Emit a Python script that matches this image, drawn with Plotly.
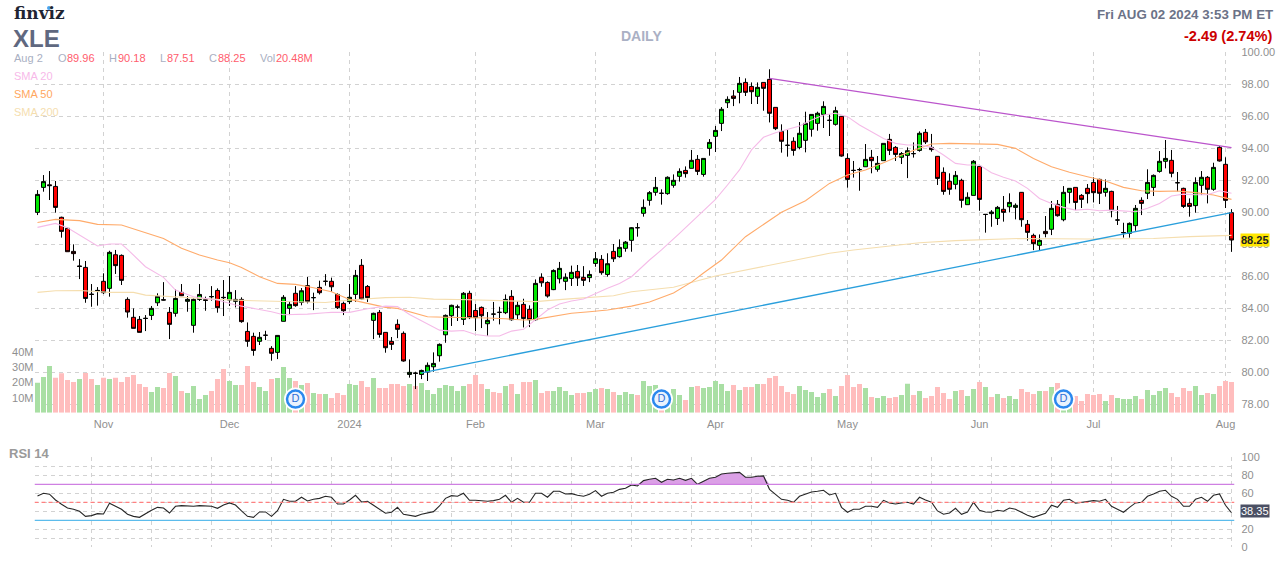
import plotly.graph_objects as go

W = 1287
H = 562

# trading days, Oct 17 2023 .. Aug 2 2024, x is the bar number
MONTH_TICKS = [11, 32, 52, 73, 93, 113, 135, 157, 176, 198]
MONTH_LABELS = ['Nov', 'Dec', '2024', 'Feb', 'Mar', 'Apr', 'May', 'Jun', 'Jul', 'Aug']
DIVIDEND_BARS = [43, 104, 171]

OPEN = [
    89.98, 91.54, 91.7, 91.6, 89.67, 88.98, 87.54, 86.63, 86.54, 84.87,
    85.06, 85.67, 85.23, 87.33, 87.29, 84.54, 83.42, 83.29, 83.36, 83.54,
    84.33, 84.52, 83.73, 83.67, 84.98, 84.42, 82.92, 84.54, 84.52, 84.7,
    85.1, 84.67, 84.5, 84.42, 84.54, 82.54, 82.23, 81.92, 82.3, 81.48,
    81.23, 83.17, 83.98, 84.92, 84.35, 85.4, 84.65, 85.29, 85.67, 85.67,
    84.85, 84.29, 84.4, 84.85, 86.67, 85.35, 83.23, 83.73, 82.48, 81.92,
    82.98, 82.42, 79.85, 79.94, 79.85, 80, 80.33, 81.02, 82.33, 83.52,
    84.06, 83.29, 84.92, 83.85, 84.04, 83.02, 83.62, 83.73, 83.71, 84.73,
    83.58, 84.23, 83.92, 83.27, 85.92, 85.6, 85.15, 85.83, 85.67, 85.85,
    86.29, 85.92, 85.9, 86.79, 87.04, 86.1, 87.54, 87.21, 87.73, 88.23,
    89.02, 89.92, 90.73, 91.23, 91.17, 91.15, 91.67, 92.23, 92.6, 92.73,
    93.29, 92.35, 93.98, 94.73, 95.54, 96.83, 97.25, 97.48, 98.1, 97.85,
    97.23, 98.1, 98.29, 96.54, 95.04, 94.17, 94.42, 94.04, 94.48, 95.17,
    95.54, 96.1, 95.73, 95.48, 95.98, 93.35, 92.6, 92.65, 92.83, 93.42,
    92.67, 93.21, 94.54, 94.04, 93.42, 93.54, 93.65, 93.85, 94.98, 94.04,
    93.48, 92.48, 91.92, 91.73, 91.98, 90.46, 91.04, 92.85, 89.85, 89.9,
    89.6, 90.17, 90.33, 90.29, 91.23, 89.23, 88.54, 87.92, 88.79, 88.92,
    90.48, 89.52, 91.23, 91.54, 91.04, 91.48, 91.85, 92.04, 91.23, 91.29,
    89.5, 88.7, 88.67, 89.15, 90.73, 91.17, 91.54, 92.54, 93.17, 93.23,
    91.83, 91.48, 90.54, 90.4, 91.67, 92.17, 91.42, 94.04, 92.98, 89.96,
]
HIGH = [
    91.37, 92.31, 92.56, 91.94, 89.71, 89.04, 87.98, 87.06, 86.94, 85.5,
    85.31, 86.17, 87.58, 87.63, 87.35, 84.67, 83.98, 83.5, 83.56, 84.13,
    84.92, 85.62, 84.06, 85.17, 85.5, 84.75, 84.6, 85.5, 84.71, 85.37,
    85.23, 85.75, 86, 85.12, 84.67, 83.1, 82.46, 82.5, 82.58, 81.62,
    82.29, 84.81, 84.44, 85.37, 85.25, 85.94, 84.96, 85.71, 86.12, 85.9,
    84.92, 84.4, 85.5, 86.38, 87.06, 85.44, 83.71, 83.88, 82.48, 82.19,
    83.29, 82.54, 80.79, 80.02, 80.15, 80.6, 81.23, 81.79, 83.6, 84.21,
    84.21, 85, 85.08, 84.25, 84.1, 83.75, 84.38, 84.08, 84.85, 85.12,
    84.42, 84.58, 84.17, 85.79, 86.17, 85.67, 86.42, 86.88, 86.17, 86.65,
    86.69, 86.62, 86.35, 87.5, 87.31, 87.42, 88, 88.29, 88.19, 89.05,
    89.31, 90.79, 91.31, 92.19, 91.42, 92.23, 92.35, 92.73, 92.85, 93.88,
    93.56, 93.35, 94.56, 95.38, 96.56, 97.23, 97.62, 98.44, 98.35, 98.1,
    98.1, 98.1, 98.92, 96.54, 95.48, 95.12, 94.67, 95.62, 96.27, 96.1,
    96.27, 96.92, 96.1, 96.58, 96, 93.67, 93.19, 92.77, 94.25, 93.88,
    93.5, 94.29, 94.88, 94.12, 93.75, 94.04, 94.35, 95.04, 95.19, 94.88,
    93.5, 92.79, 92.42, 92.56, 92.08, 91.23, 93.25, 92.85, 89.87, 90.12,
    90.38, 91, 91.17, 90.54, 91.25, 89.5, 88.65, 88.6, 89.75, 90.69,
    90.75, 91.62, 91.48, 91.54, 91.12, 91.75, 92.17, 92.08, 92.04, 91.33,
    90.38, 89.33, 89.35, 90.44, 90.92, 92.67, 92.35, 93.81, 94.5, 93.88,
    92.5, 91.52, 90.85, 92.17, 92.56, 92.25, 93.08, 94.12, 93.42, 90.18,
]
LOW = [
    89.81, 91.27, 90.75, 89.96, 88.4, 87.52, 86.96, 85.81, 84.33, 84.08,
    84.15, 84.88, 84.71, 86.13, 85.44, 83.4, 82.73, 82.48, 82.56, 83.25,
    84.13, 84.48, 82.06, 83.46, 84.75, 83.77, 82.46, 84.44, 83.83, 84.46,
    83.71, 83.5, 84.13, 84.04, 83.08, 81.58, 81.02, 81.69, 82, 80.71,
    80.81, 83.17, 83.56, 84.08, 84.17, 84.29, 83.87, 84.85, 85.4, 85.02,
    83.94, 83.56, 84.25, 84.38, 84.5, 84.38, 82.06, 82.15, 81.21, 81.38,
    82.12, 80.65, 79.65, 78.94, 79.56, 79.44, 80.02, 80.65, 81.83, 82.88,
    83.19, 82.94, 83.31, 82.56, 82.75, 82.27, 83.21, 82.98, 83.62, 83.21,
    83.29, 82.79, 82.81, 83.21, 85.33, 84.65, 85.12, 85.54, 85.12, 85.38,
    85.38, 85.38, 85.62, 86.58, 86.08, 85.96, 86.88, 87.15, 87.52, 87.52,
    88.46, 89.71, 90.4, 91.02, 90.46, 91.08, 91.52, 91.9, 92.15, 92.73,
    92.31, 92.21, 93.52, 93.75, 95.06, 96.5, 96.62, 96.79, 97.25, 96.75,
    96.75, 96.33, 95.6, 95.12, 93.71, 93.46, 93.52, 93.92, 93.73, 94.71,
    95.08, 95.25, 94.75, 95.4, 93.46, 91.52, 92.15, 91.33, 92.83, 92.42,
    92.52, 93.21, 93.56, 93.19, 93, 92.12, 93.4, 93.77, 94.25, 93.77,
    91.69, 91.08, 91.08, 91.42, 90.27, 90.46, 91.04, 90.08, 88.71, 89.08,
    89.19, 89.4, 89.98, 89.54, 89.08, 88.21, 87.62, 87.62, 88.42, 88.56,
    89.71, 89.42, 90.54, 90.12, 90.25, 90.54, 90.6, 90.5, 90.96, 89.67,
    89.19, 88.4, 88.4, 88.83, 89.81, 90.81, 91, 92.46, 92.73, 92.17,
    91.29, 90.25, 89.71, 89.96, 91.06, 90.54, 91.33, 93.15, 90.25, 87.51,
]
CLOSE = [
    91.1, 91.9, 91.65, 90.29, 88.79, 87.52, 87.4, 86.6, 84.6, 84.85,
    85.1, 84.96, 87.48, 86.65, 85.73, 83.75, 82.73, 82.48, 83.35, 83.98,
    84.73, 84.5, 82.98, 84.6, 84.77, 84.54, 84.54, 84.85, 84.48, 84.72,
    84.02, 84.65, 84.98, 84.54, 83.15, 81.92, 81.35, 82.17, 82.3, 81.17,
    82.29, 84.67, 84.23, 84.15, 85.08, 84.4, 84.65, 84.96, 85.67, 85.33,
    84.02, 83.83, 84.67, 86.04, 84.56, 84.65, 83.67, 82.35, 81.52, 81.73,
    82.67, 80.69, 79.98, 79.92, 80.1, 80.42, 80.54, 81.73, 83.54, 84.17,
    84.06, 84.92, 83.4, 83.4, 83.52, 83.23, 83.62, 83.73, 84.54, 83.27,
    84.17, 83.35, 83.27, 85.54, 85.58, 84.75, 86.35, 86.48, 85.92, 86.23,
    85.88, 85.73, 86.1, 87.08, 86.21, 86.77, 87.08, 87.79, 88.12, 89.02,
    89.02, 90.29, 91.21, 91.54, 91.17, 92.17, 91.98, 92.54, 92.4, 93.23,
    92.54, 93.35, 94.35, 95.1, 96.42, 97.04, 97.1, 98.04, 97.48, 97.52,
    97.79, 97.73, 96.17, 95.21, 94.42, 94.17, 93.85, 94.92, 95.54, 96.1,
    96.17, 96.6, 95.73, 96.33, 93.5, 92.04, 92.6, 92.65, 93.29, 93.21,
    93.04, 94.29, 93.85, 93.6, 93.65, 93.83, 93.65, 94.92, 94.38, 93.9,
    92.1, 91.29, 91.42, 92.29, 90.73, 90.92, 93.17, 90.79, 89.85, 90.0,
    90.29, 89.98, 90.6, 90.42, 89.52, 88.73, 88.02, 88.23, 88.65, 90.23,
    89.77, 91.23, 91.48, 90.6, 90.79, 91.15, 91.21, 91.17, 91.48, 90.08,
    89.5, 88.72, 89.29, 90.23, 90.54, 91.85, 92.29, 93.17, 93.35, 92.42,
    91.83, 90.35, 90.35, 91.85, 92.17, 91.42, 92.79, 93.19, 90.73, 88.25,
]

# millions of shares
VOLUME = [
    20, 23.8, 31.1, 23.3, 26.2, 21.8, 20.4, 22.4, 26.4, 22.4,
    18.4, 23.3, 22.4, 23.3, 20.4, 23.8, 25.1, 19.1, 17.1, 13.8,
    17.1, 16.4, 26.4, 24.4, 14.4, 13.1, 17.8, 9.1, 11.8, 14.4,
    22.4, 29.1, 21.1, 18.4, 18.4, 31.1, 20.4, 17.1, 14.4, 22.4,
    23.1, 30.4, 23.1, 21.1, 18.4, 19.8, 13.1, 12.4, 12.4, 9.8,
    13.1, 11.8, 19.1, 18.4, 21.1, 17.1, 23.1, 16.4, 16.4, 19.1,
    19.1, 17.8, 19.1, 17.8, 19.8, 15.1, 12.4, 16.4, 18.4, 17.8,
    14.4, 17.8, 19.1, 25.1, 19.1, 15.8, 13.8, 13.1, 17.8, 19.1,
    12.4, 20.4, 20.4, 21.8, 13.1, 14.4, 14.4, 17.1, 14.4, 11.8,
    13.1, 13.1, 13.8, 15.8, 16.4, 15.8, 13.8, 11.8, 13.8, 12.4,
    11.8, 21.1, 17.8, 18.4, 14, 12, 15.8, 11.8, 8.4, 17.1,
    17.8, 16.4, 17.1, 21.1, 19.1, 14.4, 18.4, 15.1, 17.1, 17.1,
    19.1, 19.1, 23.1, 24.4, 17.8, 13.8, 12.4, 17.8, 15.1, 13.8,
    10.4, 13.1, 15.8, 11.1, 17.8, 25.1, 17.1, 19.1, 16.4, 10.4,
    9.8, 11.1, 9.8, 10.4, 11.8, 19.3, 11.8, 14.4, 9.8, 11.1,
    17.1, 13.1, 9.1, 14.4, 15.1, 11.1, 15.8, 20.4, 17.1, 10.4,
    12.4, 9.8, 11.1, 9.1, 15.8, 13.8, 12.4, 14.4, 14.4, 17.1,
    19.8, 13, 12, 11.1, 7.8, 12.4, 11.8, 12.4, 7.8, 11.8,
    9.8, 9.1, 9.1, 11.1, 9.1, 15.1, 11.8, 14.4, 16.4, 13.1,
    10.4, 16.4, 14.4, 17.8, 11.8, 13.1, 12.4, 17.8, 21.1, 20.48,
]
# g = up day, r = down day
VOLUME_DIR = (
    'gggrrrrgrr' 'grgrrrrrrg' 'grrgrggggr' 'rrggrrrggr' 'gggrgrgrgr'
    'rrggrrgrrr' 'rrgrgggggg' 'ggrrrgrrgr' 'grrgrrgggg' 'rrggrgrggg'
    'rgggrgggrg' 'rgggggrgrr' 'grrrrrrggg' 'ggrgrrrrgr' 'ggrrggrgrr'
    'rrrgrggrgr' 'grggrrrgrg' 'rggrrrrrgr' 'ggggrggggr' 'rrrggrgrrr'
)

RSI = [
    57, 60, 59, 52.6, 47.8, 43.7, 42.2, 40, 34.4, 35.2,
    37.4, 37, 48.9, 45.6, 42.2, 36.7, 34.4, 33.3, 37.4, 41.1,
    44.4, 43.7, 38.1, 45.6, 46.3, 45.9, 45.6, 46.3, 45.6, 45.6,
    43.3, 47, 49.3, 47, 40.4, 34.4, 33.3, 39.3, 39.3, 34.4,
    40.7, 53.3, 51.1, 51.1, 55.6, 51.5, 53.3, 54.4, 56.7, 55.6,
    48.1, 48.1, 52.6, 57.8, 50.4, 51.1, 46.7, 41.9, 37.8, 38.9,
    44.4, 36.7, 35.6, 34.4, 36.7, 38.1, 39.6, 45.9, 54.4, 57.4,
    56.7, 60, 52.2, 52.2, 51.9, 51.1, 51.9, 53.3, 57.8, 50,
    54.4, 50, 50, 60, 60, 55.6, 62.2, 62.2, 59.3, 59.6,
    57.8, 56.7, 58.9, 63, 56.7, 60, 61.1, 64.4, 65.6, 69.3,
    68.1, 74.1, 75.6, 76.7, 72.2, 75.6, 74.8, 76.7, 74.4, 76.7,
    70, 73.7, 76.7, 77.8, 81.5, 82.2, 82.6, 83.3, 77.8, 77.8,
    78.9, 79.3, 64.4, 58.9, 53.3, 52.2, 50, 56.7, 59.3, 61.5,
    62.2, 63.3, 58.1, 60, 44.4, 38.9, 42.2, 42.2, 45.6, 45.6,
    44.4, 52.2, 49.3, 48.1, 49.3, 50, 48.1, 55.6, 52.6, 50,
    40.4, 36.7, 38.1, 43.3, 36.7, 39.3, 50, 41.1, 39.3, 38.9,
    41.1, 40, 43.7, 42.2, 38.9, 35.6, 33.3, 35.6, 37.8, 46.7,
    44.4, 52.2, 53.3, 48.9, 50, 51.1, 51.9, 51.1, 53.3, 45.6,
    42.2, 38.9, 44.4, 49.3, 50, 56.7, 59.3, 62.2, 63.3, 56.7,
    53.3, 45.6, 45.6, 53.3, 55.6, 51.1, 57.8, 59.3, 46.7, 38.35,
]

SMA20_BARS = [0, 3, 5, 7, 10, 12, 14, 15, 18, 21, 23, 26, 30, 33, 36, 39, 41, 45, 48, 49, 52, 55, 58, 60,
              62, 65, 67, 69, 71, 73, 75, 77, 79, 81, 83, 85, 87, 89, 91, 93, 95, 97, 99, 102, 104, 107,
              110, 113, 115, 117, 119, 121, 123, 125, 127, 129, 131, 133, 135, 137, 139, 141, 143, 145,
              147, 149, 151, 153, 155, 157, 159, 161, 163, 165, 167, 169, 171, 173, 175, 177, 179, 181,
              183, 185, 187, 189, 191, 193, 195, 197, 199]
SMA20 = [89.04, 89.29, 89.02, 88.56, 87.88, 88, 88, 87.67, 86.58, 85.92, 85.12, 84.71, 84.5, 84.19, 83.98,
         83.77, 83.58, 83.62, 83.71, 83.73, 83.73, 83.96, 84.12, 84.1, 83.6, 83, 82.62, 82.56, 82.6, 82.35,
         82.25, 82.25, 82.56, 82.67, 83.25, 83.88, 84.25, 84.44, 84.56, 84.92, 85.23, 85.54, 85.96, 87,
         87.63, 88.67, 89.71, 90.79, 91.69, 92.63, 93.88, 94.67, 94.96, 95.17, 95.38, 95.75, 96.06, 96.17,
         95.96, 95.44, 95.02, 94.6, 94.29, 94.19, 94.19, 94.04, 93.56, 93.04, 92.94, 92.94, 92.46, 92.17,
         91.94, 91.48, 90.85, 90.54, 90.29, 90.12, 90.17, 90.08, 90.12, 90.08, 90.02, 90.23, 90.54, 91,
         91.12, 91.08, 91.08, 91.33, 91.17]

SMA50_BARS = [0, 3, 7, 10, 14, 17, 21, 24, 27, 30, 32, 34, 37, 40, 43, 46, 49, 52, 55, 58, 60, 62, 65, 68,
              71, 75, 78, 81, 83, 86, 89, 92, 95, 99, 102, 106, 109, 111, 114, 118, 124, 128, 130, 132,
              135, 138, 141, 144, 147, 149, 152, 157, 160, 163, 166, 169, 172, 175, 178, 181, 184, 187,
              190, 193, 196, 199]
SMA50 = [89.35, 89.54, 89.46, 89.23, 89.19, 88.83, 88.35, 87.73, 87.31, 87, 86.83, 86.54, 85.96, 85.54,
         85.48, 85.27, 85.02, 84.54, 84.29, 84.04, 83.98, 83.77, 83.46, 83.42, 83.42, 83.38, 83.33, 83.25,
         83.29, 83.46, 83.67, 83.77, 83.88, 84.12, 84.38, 84.94, 85.62, 86.19, 87, 88.46, 89.98, 90.71,
         91.27, 91.79, 92.31, 92.63, 93.08, 93.56, 93.98, 94.25, 94.29, 94.25, 94.23, 93.98, 93.35, 92.83,
         92.48, 92.21, 91.94, 91.54, 91.33, 91.29, 91.31, 91.21, 91.06, 90.79]

SMA200_BARS = [0, 3, 7, 12, 16, 18, 24, 30, 36, 42, 48, 52, 55, 58, 62, 66, 72, 78, 83, 88, 92, 96, 99,
               106, 113, 127, 132, 136, 142, 147, 153, 164, 175, 186, 192, 199]
SMA200 = [84.98, 85.08, 85.1, 84.98, 84.98, 84.81, 84.67, 84.54, 84.46, 84.4, 84.35, 84.5, 84.56, 84.65,
          84.67, 84.56, 84.52, 84.44, 84.4, 84.56, 84.65, 84.77, 85.02, 85.3, 86, 87.04, 87.42, 87.63,
          87.88, 88.08, 88.21, 88.35, 88.31, 88.35, 88.46, 88.54]

# hand drawn trendlines, bar number and price of each end
RESISTANCE_BARS = [122, 199]
RESISTANCE = [98.35, 94.02]
SUPPORT_BARS = [64, 199]
SUPPORT = [79.95, 89.96]

bars = list(range(len(CLOSE)))

FONT = 'Liberation Sans, Arial, sans-serif'
GRID = '#d2d2d2'
LABEL = '#8f8f8f'
PLOT_X = [34.5, 1234.5]


def px_x(x):
    return x / W


def px_y(y):
    return 1 - y / H


def label(fig, x, y, text, color, size=11, anchor='left', **kw):
    fig.add_annotation(xref='paper', yref='paper', x=px_x(x), y=px_y(y), text=text,
                       showarrow=False, xanchor=anchor, yanchor='middle',
                       font=dict(family=kw.pop('family', FONT), size=size, color=color),
                       borderpad=0, **kw)


fig = go.Figure()

fig.add_trace(go.Bar(x=bars, y=VOLUME, yaxis='y', xaxis='x',
                     marker=dict(color=['#a9dfa4' if d == 'g' else '#ffbdbd' for d in VOLUME_DIR], line_width=0),
                     hoverinfo='skip'))

for xs, ys, color in [(SMA200_BARS, SMA200, '#f5deaf'),
                      (SMA50_BARS, SMA50, '#ffab6b'),
                      (SMA20_BARS, SMA20, '#f5bbe8')]:
    fig.add_trace(go.Scatter(x=xs, y=ys, yaxis='y2', xaxis='x', mode='lines',
                             line=dict(color=color, width=1.1), hoverinfo='skip'))

fig.add_trace(go.Candlestick(x=bars, open=OPEN, high=HIGH, low=LOW, close=CLOSE, yaxis='y2', xaxis='x',
                             increasing=dict(fillcolor='#00e600', line=dict(color='black', width=1)),
                             decreasing=dict(fillcolor='#ff0000', line=dict(color='black', width=1)),
                             whiskerwidth=0, hoverinfo='skip'))

fig.add_trace(go.Scatter(x=RESISTANCE_BARS, y=RESISTANCE, yaxis='y2', xaxis='x', mode='lines',
                         line=dict(color='#bb55cc', width=1.3), hoverinfo='skip'))
fig.add_trace(go.Scatter(x=SUPPORT_BARS, y=SUPPORT, yaxis='y2', xaxis='x', mode='lines',
                         line=dict(color='#2a9fdc', width=1.3), hoverinfo='skip'))

# dividend badges, sit just above the foot of the price axis
badge_y = [78.31] * len(DIVIDEND_BARS)
fig.add_trace(go.Scatter(x=DIVIDEND_BARS, y=badge_y, yaxis='y2', xaxis='x', mode='markers',
                         marker=dict(size=23, color='white'), hoverinfo='skip'))
fig.add_trace(go.Scatter(x=DIVIDEND_BARS, y=badge_y, yaxis='y2', xaxis='x', mode='markers+text',
                         text=['D'] * len(DIVIDEND_BARS), textposition='middle center',
                         textfont=dict(family=FONT, size=11, color='#2f6fd6'),
                         marker=dict(size=17, color='#eaf2fd', line=dict(color='#2b88ee', width=2.5)),
                         hoverinfo='skip'))

# RSI panel
overbought = [max(v, 70) for v in RSI]
fig.add_trace(go.Scatter(x=bars, y=[70] * len(bars), yaxis='y3', xaxis='x2', mode='lines',
                         line=dict(width=0), hoverinfo='skip'))
fig.add_trace(go.Scatter(x=bars, y=overbought, yaxis='y3', xaxis='x2', mode='lines', fill='tonexty',
                         fillcolor='#dba0e6', line=dict(width=0), hoverinfo='skip'))
for level, color, dash in [(70, '#cf80e2', 'solid'), (50, '#ff8080', '4px,3px'), (30, '#5cbcec', 'solid')]:
    fig.add_shape(type='line', xref='x2', yref='y3', x0=-0.5, x1=199.5, y0=level, y1=level,
                  line=dict(color=color, width=1.3, dash=dash))
fig.add_trace(go.Scatter(x=bars, y=RSI, yaxis='y3', xaxis='x2', mode='lines',
                         line=dict(color='#262626', width=1.1), hoverinfo='skip'))

# white patch behind the legend block hides the gridlines there
fig.add_shape(type='rect', xref='paper', yref='paper', x0=px_x(0), x1=px_x(60), y0=px_y(122), y1=px_y(46),
              fillcolor='white', line_width=0, layer='between')

fig.update_layout(
    width=W, height=H, autosize=False, showlegend=False,
    margin=dict(l=0, r=0, t=0, b=0),
    paper_bgcolor='white', plot_bgcolor='white',
    bargap=1 / 6, boxgap=1 / 3, boxgroupgap=0, boxmode='overlay',
    font=dict(family=FONT, size=11, color=LABEL),
    xaxis=dict(domain=[px_x(PLOT_X[0]), px_x(PLOT_X[1])], range=[-0.5, 199.5], anchor='y', automargin=False,
               tickmode='array', tickvals=MONTH_TICKS, ticktext=MONTH_LABELS, ticks='',
               showgrid=True, gridcolor=GRID, griddash='4px,4px', gridwidth=1,
               zeroline=False, showline=False, rangeslider=dict(visible=False), ticklabelstandoff=3,
               tickfont=dict(size=11, color=LABEL)),
    xaxis2=dict(domain=[px_x(PLOT_X[0]), px_x(PLOT_X[1])], range=[-0.5, 199.5], anchor='y3', automargin=False,
                tickmode='array', tickvals=list(range(9, 200, 10)), showticklabels=False, ticks='',
                showgrid=True, gridcolor=GRID, griddash='4px,4px', gridwidth=1,
                zeroline=False, showline=False),
    # volume sits at the bottom of the same pane, scaled so 40M stays low
    yaxis=dict(domain=[px_y(412.7), px_y(52)], range=[0, 240], anchor='x', side='left', automargin=False,
               tickmode='array', tickvals=[10, 20, 30, 40], ticktext=['10M', '20M', '30M', '40M'],
               showgrid=False, zeroline=False, showline=False, ticks='',
               tickfont=dict(size=11, color=LABEL)),
    yaxis2=dict(domain=[px_y(412.7), px_y(52)], range=[77.46, 100], anchor='x', side='right', automargin=False,
                overlaying='y', tickmode='array', tickvals=list(range(78, 101, 2)), tickformat='.2f',
                showgrid=True, gridcolor=GRID, griddash='4px,4px', gridwidth=1,
                zeroline=False, showline=False, ticks='', ticklabelstandoff=6,
                tickfont=dict(size=11, color=LABEL)),
    # the 40 label sits under the last value tag in the reference, so it is left out
    yaxis3=dict(domain=[px_y(547.3), px_y(457.3)], range=[0, 100], anchor='x2', side='right', automargin=False,
                tickmode='array', tickvals=list(range(0, 101, 10)),
                ticktext=[str(v) if v % 20 == 0 and v != 40 else '' for v in range(0, 101, 10)],
                showgrid=True, gridcolor=GRID, griddash='4px,4px', gridwidth=1,
                zeroline=False, showline=False, ticks='', ticklabelstandoff=6,
                tickfont=dict(size=11, color=LABEL)),
)

# header
label(fig, 13, 13, '<b>finviz</b>', '#1f2533', size=17, family='DejaVu Serif, serif')
fig.add_shape(type='circle', xref='paper', yref='paper', x0=px_x(47), x1=px_x(51), y0=px_y(10), y1=px_y(6),
              fillcolor='#4aa3f0', line_width=0)
label(fig, 12, 38, '<b>XLE</b>', '#5f6880', size=24)
label(fig, 641, 36, '<b>DAILY</b>', '#aab0c4', size=14, anchor='center')
label(fig, 1274, 14, '<b>Fri AUG 02 2024 3:53 PM ET</b>', '#6b7287', size=13.3, anchor='right')
label(fig, 1274, 36, '<b>-2.49 (2.74%)</b>', '#cc0000', size=14.6, anchor='right')

# OHLC readout
GREY = '#a9afc2'
RED = '#ff5c6c'
for x, text, color in [(13, 'Aug 2', GREY),
                       (57, 'O', GREY), (66, '89.96', RED),
                       (108, 'H', GREY), (117, '90.18', RED),
                       (159, 'L', GREY), (166, '87.51', RED),
                       (208, 'C', GREY), (217, '88.25', RED),
                       (259, 'Vol', GREY), (275, '20.48M', RED)]:
    label(fig, x, 58, text, color)
label(fig, 13, 76, 'SMA 20', '#f7b9e9')
label(fig, 13, 94, 'SMA 50', '#ffa75f')
label(fig, 13, 112, 'SMA 200', '#f5deaf')

label(fig, 8, 453, '<b>RSI 14</b>', '#9a9a9a', size=13)

# last value tags
label(fig, 1255, 239.5, '<b>88.25</b>', '#222222', size=11, anchor='center', bgcolor='#ffe600')
label(fig, 1255, 511, '38.35', 'white', size=11, anchor='center', bgcolor='#4b5064')

fig.write_html('out.html', config=dict(displayModeBar=False, staticPlot=True),
               post_script="document.body.style.margin='0';document.body.style.overflow='hidden';")
